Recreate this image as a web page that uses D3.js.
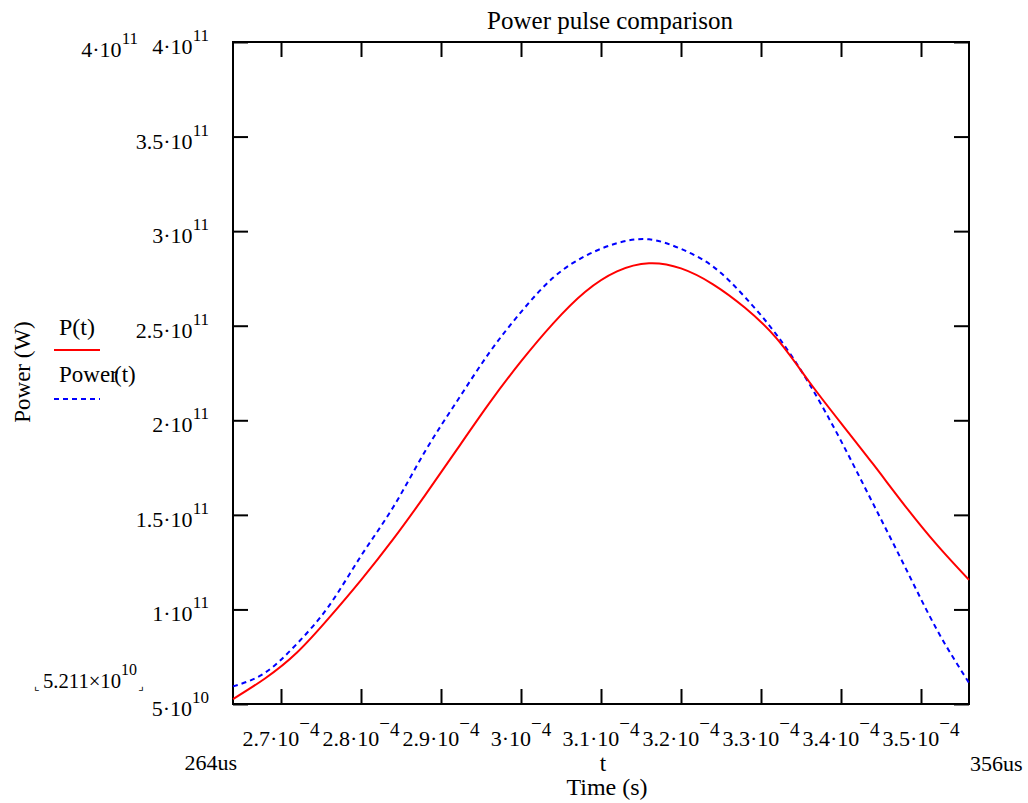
<!DOCTYPE html>
<html>
<head>
<meta charset="utf-8">
<script src="https://cdn.jsdelivr.net/npm/d3@7"></script>
<style>
	body { margin: 0; background: #fff; }
	text { font-family: "Liberation Serif", "Times New Roman", serif; fill: #000; }
</style>
</head>
<body>
<div id="chart"></div>
<script>
	// time in microseconds
	var timeUs = [264, 268, 272, 276, 280, 284, 288, 292, 296, 300, 304, 308,
		312, 316, 320, 324, 328, 332, 336, 340, 344, 348, 352, 356];

	// P(t), red solid
	var pValues = [5.26e10, 6.35e10, 7.72e10, 9.55e10, 1.155e11, 1.370e11, 1.603e11, 1.846e11,
		2.088e11, 2.311e11, 2.511e11, 2.678e11, 2.787e11, 2.830e11, 2.803e11, 2.719e11,
		2.595e11, 2.430e11, 2.205e11, 1.985e11, 1.769e11, 1.548e11, 1.341e11, 1.156e11];

	// Power(t), blue dashed
	var powerValues = [5.93e10, 6.65e10, 8.19e10, 1.019e11, 1.283e11, 1.539e11, 1.835e11, 2.101e11,
		2.355e11, 2.572e11, 2.753e11, 2.868e11, 2.936e11, 2.957e11, 2.906e11, 2.813e11,
		2.651e11, 2.449e11, 2.195e11, 1.891e11, 1.560e11, 1.225e11, 0.892e11, 0.612e11];

	var xTicks = [270, 280, 290, 300, 310, 320, 330, 340, 350];
	var xTickLabels = ["2.7", "2.8", "2.9", "3", "3.1", "3.2", "3.3", "3.4", "3.5"];

	var yTicks = [5e10, 1e11, 1.5e11, 2e11, 2.5e11, 3e11, 3.5e11, 4e11];
	var yTickMant = ["5", "1", "1.5", "2", "2.5", "3", "3.5", "4"];
	var yTickExp = ["10", "11", "11", "11", "11", "11", "11", "11"];

(function() {
	var svgwidth = 1028;
	var svgheight = 803;
	var left = 233, right = 969, top = 42, bottom = 704;

	var svg = d3.select("#chart")
				.append("svg")
				.attr("width", svgwidth)
				.attr("height", svgheight);

	var x = d3.scaleLinear().domain([264, 356]).range([left, right]);
	var y = d3.scaleLinear().domain([5e10, 4e11]).range([bottom, top]);

	// ticks on all four sides, pointing inward
	var tickLen = 15;
	svg.append("g").attr("transform", "translate(0," + bottom + ")")
		.call(d3.axisBottom(x).tickValues(xTicks).tickSize(-tickLen).tickFormat(""));
	svg.append("g").attr("transform", "translate(0," + top + ")")
		.call(d3.axisTop(x).tickValues(xTicks).tickSize(-tickLen).tickFormat(""));
	svg.append("g").attr("transform", "translate(" + left + ",0)")
		.call(d3.axisLeft(y).tickValues(yTicks).tickSize(-tickLen).tickFormat(""));
	svg.append("g").attr("transform", "translate(" + right + ",0)")
		.call(d3.axisRight(y).tickValues(yTicks).tickSize(-tickLen).tickFormat(""));
	svg.selectAll(".domain").remove();
	svg.selectAll(".tick line").attr("stroke", "#000").attr("stroke-width", 2);

	svg.append("rect")
		.attr("x", left).attr("y", top)
		.attr("width", right - left).attr("height", bottom - top)
		.attr("fill", "none").attr("stroke", "#000").attr("stroke-width", 2);

	// curves
	var lineP = d3.line()
		.x(function(d, i){ return x(timeUs[i]); })
		.y(function(d){ return y(d); })
		.curve(d3.curveNatural);

	svg.append("path")
		.datum(powerValues)
		.attr("d", lineP)
		.attr("fill", "none")
		.attr("stroke", "#0000ff")
		.attr("stroke-width", 2)
		.attr("stroke-dasharray", "5,4");

	svg.append("path")
		.datum(pValues)
		.attr("d", lineP)
		.attr("fill", "none")
		.attr("stroke", "#ff0000")
		.attr("stroke-width", 2);

	// y tick labels
	var yl = svg.selectAll("text.ylab")
		.data(yTicks)
		.enter()
		.append("text")
		.attr("class", "ylab")
		.attr("x", 209)
		.attr("y", function(d){ return y(d) + 12; })
		.attr("text-anchor", "end")
		.style("font-size", "22px");
	yl.append("tspan").text(function(d, i){ return yTickMant[i] + "·10"; });
	yl.append("tspan").attr("dy", -13).style("font-size", "17px")
		.text(function(d, i){ return yTickExp[i]; });

	// x tick labels
	var xl = svg.selectAll("text.xlab")
		.data(xTicks)
		.enter()
		.append("text")
		.attr("class", "xlab")
		.attr("x", function(d){ return x(d); })
		.attr("y", 746)
		.attr("text-anchor", "middle")
		.style("font-size", "22px");
	xl.append("tspan").text(function(d, i){ return xTickLabels[i] + "·10"; });
	xl.append("tspan").attr("dy", -16).style("font-size", "19px").text("−");
	xl.append("tspan").attr("dy", 6).style("font-size", "19px").text("4");

	// axis limit markers
	var lim = svg.append("text").attr("x", 138).attr("y", 57)
		.attr("text-anchor", "end").style("font-size", "22px");
	lim.append("tspan").text("4·10");
	lim.append("tspan").attr("dy", -13).style("font-size", "17px").text("11");

	var low = svg.append("text").attr("x", 137).attr("y", 688)
		.attr("text-anchor", "end").style("font-size", "22px")
		.attr("textLength", 94).attr("lengthAdjust", "spacingAndGlyphs");
	low.append("tspan").text("5.211×10");
	low.append("tspan").attr("dy", -13).style("font-size", "17px").text("10");
	svg.append("text").attr("x", 34).attr("y", 690).style("font-size", "12px")
		.style("font-family", "DejaVu Sans").text("⌞");
	svg.append("text").attr("x", 138).attr("y", 690).style("font-size", "12px")
		.style("font-family", "DejaVu Sans").text("⌟");

	svg.append("text").attr("x", 237).attr("y", 770)
		.attr("text-anchor", "end").style("font-size", "22px").text("264us");
	svg.append("text").attr("x", 970).attr("y", 771)
		.style("font-size", "22px").text("356us");

	// titles
	svg.append("text").attr("x", 610).attr("y", 29)
		.attr("text-anchor", "middle").style("font-size", "25px")
		.text("Power pulse comparison");
	svg.append("text").attr("x", 603).attr("y", 771)
		.attr("text-anchor", "middle").style("font-size", "23px").text("t");
	svg.append("text").attr("x", 607).attr("y", 795)
		.attr("text-anchor", "middle").style("font-size", "24px").text("Time (s)");
	svg.append("text")
		.attr("transform", "translate(30,372) rotate(-90)")
		.attr("text-anchor", "middle").style("font-size", "23px")
		.text("Power (W)");

	// legend
	svg.append("text").attr("x", 59).attr("y", 335).style("font-size", "24px").text("P(t)");
	svg.append("line").attr("x1", 54).attr("x2", 100).attr("y1", 350).attr("y2", 350)
		.attr("stroke", "#ff0000").attr("stroke-width", 2);
	svg.append("text").attr("x", 59).attr("y", 382).style("font-size", "23px").text("Power");
	svg.append("text").attr("x", 114).attr("y", 382).style("font-size", "23px").text("(t)");
	svg.append("line").attr("x1", 54).attr("x2", 100).attr("y1", 399).attr("y2", 399)
		.attr("stroke", "#0000ff").attr("stroke-width", 2).attr("stroke-dasharray", "5,4");
})();
</script>
</body>
</html>
